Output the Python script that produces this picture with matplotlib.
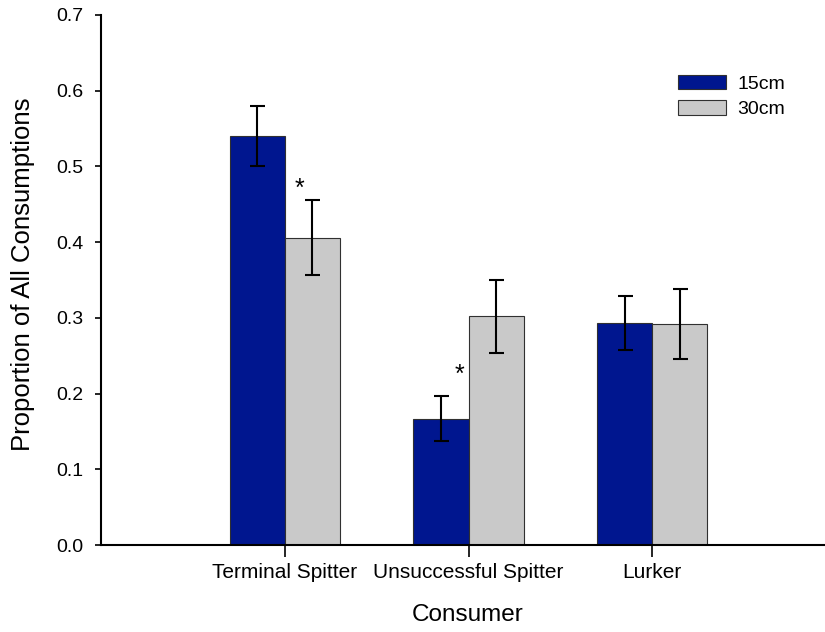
import matplotlib
matplotlib.use('Agg')
import matplotlib.pyplot as plt
import numpy as np

plt.rcParams['font.family'] = ['Liberation Sans', 'DejaVu Sans']

consumers = ['Terminal Spitter', 'Unsuccessful Spitter', 'Lurker']
series = ['15cm', '30cm']
mean_15 = [0.540, 0.167, 0.293]
err_15 = [0.040, 0.030, 0.036]
mean_30 = [0.406, 0.302, 0.292]
err_30 = [0.050, 0.048, 0.046]
# significance marks (category position, height)
star_x = [0.08, 0.95]
star_y = [0.461, 0.216]

fig = plt.figure(figsize=(8.25, 6.32), dpi=100)
ax = fig.add_axes([0.1224, 0.1372, 0.8776, 0.8395])

x = np.arange(len(consumers))
w = 0.30
ekw = dict(elinewidth=1.5, capthick=1.5, ecolor='black')
ax.bar(x - w/2, mean_15, w, yerr=err_15, capsize=5.4, color='#00168f',
       edgecolor='#303030', linewidth=0.8, label=series[0], error_kw=ekw)
ax.bar(x + w/2, mean_30, w, yerr=err_30, capsize=5.4, color='#c9c9c9',
       edgecolor='#303030', linewidth=0.8, label=series[1], error_kw=ekw)

for sx, sy in zip(star_x, star_y):
    ax.text(sx, sy, '*', ha='center', va='baseline', fontsize=18)

ax.set_xlim(-1.0, 2.94)
ax.set_ylim(0, 0.7)
ax.set_yticks(np.arange(0, 0.71, 0.1))
ax.set_yticklabels(['%.1f' % v for v in np.arange(0, 0.71, 0.1)])
ax.set_xticks(x)
ax.set_xticklabels(consumers)

for s in ['top', 'right']:
    ax.spines[s].set_visible(False)
for s in ['left', 'bottom']:
    ax.spines[s].set_linewidth(1.5)

ax.tick_params(axis='y', direction='out', length=4.3, width=1.2, labelsize=14, pad=8.5)
ax.tick_params(axis='x', direction='out', length=8.6, width=1.2, labelsize=15, pad=4)

ax.set_ylabel('Proportion of All Consumptions', fontsize=18.5)
ax.yaxis.set_label_coords(-0.091, 0.51)
ax.set_xlabel('Consumer', fontsize=17.5)
ax.xaxis.set_label_coords(0.507, -0.111)

ax.legend(loc='upper left', bbox_to_anchor=(0.797, 0.887), frameon=False,
          fontsize=14, handlelength=2.47, handleheight=0.77, handletextpad=0.57,
          labelspacing=0.38, borderpad=0, borderaxespad=0)

fig.savefig('out.png', dpi=100)
